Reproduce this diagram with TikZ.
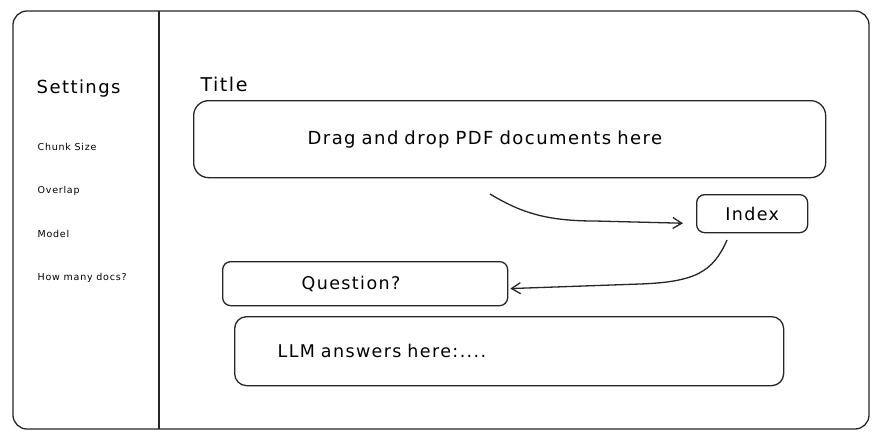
\documentclass[tikz,border=0pt]{standalone}
\usepackage{fontspec}
\setmainfont{DejaVu Sans}[LetterSpace=8]
\usetikzlibrary{arrows.meta}
\tikzset{
    mockup/.style={x=1pt, y=-1pt, line width=1.3pt, draw=black!85},
    box/.style={draw=black!85, line width=1.3pt, anchor=north west, inner sep=0pt,
        font=\fontsize{17.5}{20}\selectfont},
    heading/.style={anchor=base west, inner sep=0pt, font=\fontsize{19}{21}\selectfont},
    setting/.style={anchor=base west, inner sep=0pt, font=\fontsize{9.5}{12}\selectfont},
    flow/.style={line width=1.3pt, draw=black!85,
        -{Straight Barb[length=9pt,width=11pt,line width=1.3pt]}},
}

\begin{document}
\begin{tikzpicture}[mockup]
    \useasboundingbox (0,0) rectangle (880,432);
    % window and sidebar
    \draw[rounded corners=14pt] (13,11) rectangle (869,429);
    \draw (159,11) -- (159,429);

    % sidebar
    \node[heading, font=\fontsize{18}{21}\selectfont] (settings) at (36,93) {Settings};
    \node[setting] (chunk) at (37,150) {Chunk Size};
    \node[setting] (overlap) at (37,193) {Overlap};
    \node[setting] (model) at (37,237) {Model};
    \node[setting] (ndocs) at (37,280) {How many docs?};

    % main area
    \node[heading] (title) at (200,91) {Title};
    \node[box, minimum width=632pt, minimum height=77pt, rounded corners=15pt,
        text width=404pt, inner xsep=114pt, align=left,
        font=\fontsize{18}{20}\selectfont] (drop) at (193,100)
        {Drag and drop PDF documents here};
    \node[box, minimum width=111pt, minimum height=38pt, rounded corners=8pt]
        (index) at (696,194) {Index};
    \node[box, minimum width=285pt, minimum height=44pt, rounded corners=8pt,
        text width=127pt, inner xsep=79pt, align=left] (question) at (222,261)
        {Question?};
    \node[box, minimum width=549pt, minimum height=69pt, rounded corners=12pt,
        text width=463pt, inner xsep=43pt, align=left] (answer) at (234,316)
        {LLM answers here:....};

    % flow
    \coordinate (dropout) at (490,194);
    \coordinate (indexout) at (727,240);
    \draw[flow, shorten >=13pt] (dropout) .. controls (520,212) and (545,221) .. (595,221) -- (index.190);
    \draw[flow, shorten >=2pt] (indexout) .. controls (713,272) and (695,282) .. (640,284) -- (question.-2);
\end{tikzpicture}
\end{document}
